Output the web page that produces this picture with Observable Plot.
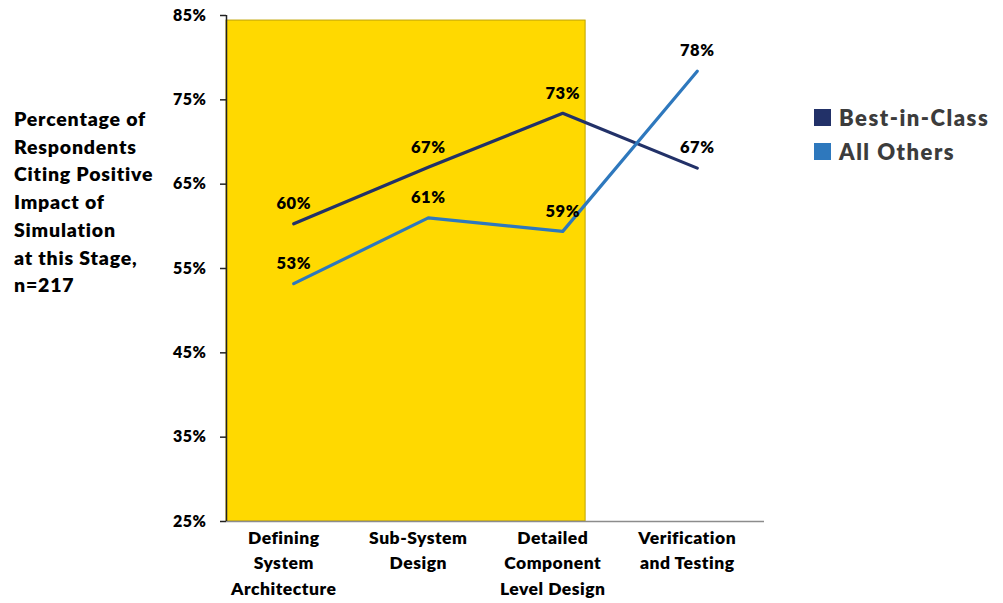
<!DOCTYPE html>
<html>
<head>
<meta charset="utf-8">
<script src="https://cdn.jsdelivr.net/npm/d3@7"></script>
<script src="https://cdn.jsdelivr.net/npm/@observablehq/plot@0.6"></script>
<style>
  body { margin: 0; background: #fff; font-family: Lato, "Open Sans", sans-serif; }
  #wrap { position: relative; width: 1003px; height: 603px; overflow: hidden; }
  #ytitle { position: absolute; left: 14px; top: 105px; font-weight: 800; font-size: 19.5px; letter-spacing: 0.8px; line-height: 27.7px; color: #000; white-space: pre; }
  #legend { position: absolute; left: 814px; top: 100px; font-weight: 800; font-size: 22px; letter-spacing: 1.5px; color: #3c3c3c; }
  #legend div { display: flex; align-items: center; height: 34px; }
  #legend span.sw { display: inline-block; width: 17px; height: 17px; margin-right: 8px; }
</style>
</head>
<body>
<div id="wrap">
  <div id="chart"></div>
  <div id="ytitle"></div>
  <div id="legend"></div>
</div>
<script>
const categories = ["Defining\nSystem\nArchitecture", "Sub-System\nDesign", "Detailed\nComponent\nLevel Design", "Verification\nand Testing"];
const seriesNames = ["Best-in-Class", "All Others"];
const bestInClass = [60.3, 67.0, 73.4, 66.9];
const allOthers = [53.2, 61.0, 59.4, 78.4];
const seriesColors = ["#223168", "#2e78bd"];
const yTicks = [25, 35, 45, 55, 65, 75, 85];
const highlight = [{x1: -0.5, x2: 2.17, y1: 25, y2: 84.4}];
const yTitle = "Percentage of\nRespondents\nCiting Positive\nImpact of\nSimulation\nat this Stage,\nn=217";

const rows = [];
[bestInClass, allOthers].forEach((vals, s) => {
  vals.forEach((v, i) => rows.push({series: seriesNames[s], i, v}));
});

const chart = Plot.plot({
  width: 1003,
  height: 603,
  marginLeft: 226,
  marginRight: 239,
  marginTop: 15,
  marginBottom: 82,
  style: {fontFamily: "Lato, 'Open Sans', sans-serif", background: "#fff", letterSpacing: "0.5px"},
  x: {domain: [-0.5, categories.length - 0.5], axis: null},
  y: {domain: [25, 85], axis: null},
  color: {domain: seriesNames, range: seriesColors},
  marks: [
    Plot.rect(highlight, {x1: "x1", x2: "x2", y1: "y1", y2: "y2", fill: "#ffd900", stroke: "#bfa300", strokeWidth: 1}),
    Plot.ruleY([25], {stroke: "#8c8c8c", strokeWidth: 1.5}),
    Plot.ruleX([-0.5], {y1: 25, y2: 85, stroke: "#222", strokeWidth: 1.5}),
    Plot.axisY({ticks: yTicks, tickSize: 6, tickPadding: 14, tickFormat: d => d + "%", fontSize: 16, fontWeight: 800, fill: "#000", stroke: "#222", strokeWidth: 1.5}),
    Plot.axisX({ticks: d3.range(categories.length), tickFormat: i => categories[i], tickSize: 0, tickPadding: 4, dx: -10, fontSize: 17.5, fontWeight: 800, lineHeight: 1.46, fill: "#000"}),
    Plot.line(rows, {x: "i", y: "v", z: "series", stroke: "series", strokeWidth: 3.2}),
    Plot.text(rows, {x: "i", y: "v", text: d => Math.round(d.v) + "%", dy: -20, fontSize: 16.5, fontWeight: 800, fill: "#000"})
  ]
});
document.getElementById("chart").appendChild(chart);
document.getElementById("ytitle").textContent = yTitle;
const legend = document.getElementById("legend");
seriesNames.forEach((n, k) => {
  const row = document.createElement("div");
  const sw = document.createElement("span");
  sw.className = "sw";
  sw.style.background = seriesColors[k];
  row.appendChild(sw);
  row.appendChild(document.createTextNode(n));
  legend.appendChild(row);
});
</script>
</body>
</html>
